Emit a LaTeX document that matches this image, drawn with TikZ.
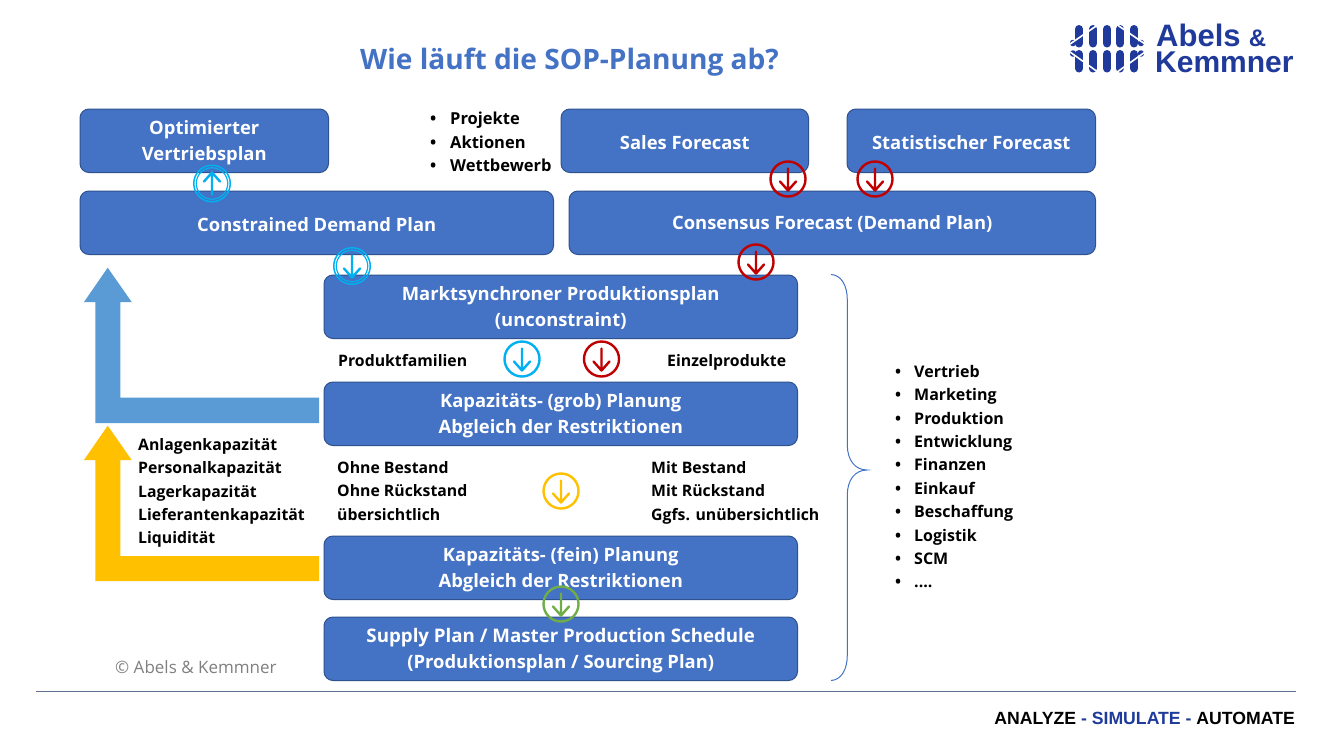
\documentclass[tikz,border=0pt]{standalone}
\usepackage{fontspec}
\setmainfont{Open Sans}[BoldFont=* Bold]
\newfontfamily\logofont{Liberation Sans}
\definecolor{boxblue}{HTML}{4472C4}
\definecolor{boxline}{HTML}{2F528F}
\definecolor{ccyan}{HTML}{00B0F0}
\definecolor{cred}{HTML}{C00000}
\definecolor{cyellow}{HTML}{FFC000}
\definecolor{cgreen}{HTML}{70AD47}
\definecolor{lblue}{HTML}{5B9BD5}
\definecolor{logoblue}{HTML}{1F3A9A}
\definecolor{rulecol}{HTML}{5F6F8F}
\tikzset{
  x=1pt,y=-1pt,
  flow/.style={draw=boxline,line width=1pt,fill=boxblue,rounded corners=9pt,outer sep=0pt,inner sep=0pt,anchor=north west},
  flowtext/.style={text=white,font=\fontsize{18.4}{26}\selectfont\bfseries,align=center,inner sep=0pt,yshift=-1.5pt},
  lbl/.style={font=\fontsize{15.8}{23.4}\selectfont\bfseries,align=left,inner sep=0pt,anchor=north west},
  ring/.style={circle,draw=#1,line width=2.4pt,minimum size=35pt,inner sep=0pt,outer sep=0pt},
  arr/.style={draw=#1,line width=2.4pt,line cap=round,line join=round},
  logotext/.style={text=logoblue,font=\logofont\fontsize{30}{30}\selectfont\bfseries,inner sep=0pt,anchor=base west,text height=21pt,text depth=0pt},
}
\newcommand{\bx}[6]{\node[flow,minimum width=#4 pt-#2 pt-0.5pt,minimum height=#5 pt-#3 pt-0.5pt] (#1) at (#2,#3) {};
  \node[flowtext] (#1t) at (#1.center) {#6};}
\newcommand{\ringdown}[4]{\node[ring=#4] (#1) at (#2,#3) {};
  \draw[arr=#4] (#1.center) ++(0,-10.5) -- ++(0,22) ++(-8,-9) -- ++(8,9) -- ++(8,-9);}
\newcommand{\dringdown}[4]{\node[ring=#4,line width=1.5pt,minimum size=36.5pt] (#1) at (#2,#3) {};
  \node[ring=#4,line width=1.2pt,minimum size=31.5pt] (#1i) at (#2,#3) {};
  \draw[arr=#4] (#1.center) ++(0,-10.5) -- ++(0,22) ++(-8,-9) -- ++(8,9) -- ++(8,-9);}
\newcommand{\dringup}[4]{\node[ring=#4,line width=1.5pt,minimum size=36.5pt] (#1) at (#2,#3) {};
  \node[ring=#4,line width=1.2pt,minimum size=31.5pt] (#1i) at (#2,#3) {};
  \draw[arr=#4] (#1.center) ++(0,11) -- ++(0,-22) ++(-8,9) -- ++(8,-9) -- ++(8,9);}
\begin{document}
\begin{tikzpicture}
\useasboundingbox (0,0) rectangle (1329,739);
\fill[white] (0,0) rectangle (1329,739);

\node[text=boxblue,font=\fontsize{28.1}{32}\selectfont\bfseries,inner sep=0pt] (title) at (569.5,62) {Wie läuft die SOP-Planung ab?};

% logo
\foreach \px in {1079,1093,1107,1120,1134}{
  \draw[logoblue,line width=8pt,line cap=round] (\px,29) -- (\px,43.5);
  \draw[logoblue,line width=8pt,line cap=round] (\px,54) -- (\px,68.5);
}
\foreach \px in {1073,1141}{
  \draw[logoblue,line width=5.5pt,line cap=round] (\px,42.5) -- (\px,43.5);
  \draw[logoblue,line width=5.5pt,line cap=round] (\px,53) -- (\px,54);
}
\foreach \xa/\ya/\xb/\yb in {1070/44/1102/22,1145/44/1113/22,1070/52/1102/75,1145/52/1113/75}{
  \draw[white,line width=1.6pt] (\xa,\ya) -- (\xb,\yb);
}
\node[logotext] (logoa) at (1156,46.5) {{\fontsize{31}{31}\selectfont Abels} {\fontsize{24}{24}\selectfont\&}};
\node[logotext] (logob) at (1155,72) {Kemmner};

% arrows behind boxes
\fill[lblue] (107.7,267.7) -- (131.7,302) -- (120.3,302) -- (120.3,397.7) -- (319,397.7) -- (319,423) -- (95.3,423) -- (95.3,302) -- (84,302) -- cycle;
\fill[cyellow] (107.7,425.7) -- (131.7,460) -- (120.3,460) -- (120.3,556) -- (319,556) -- (319,581) -- (95.3,581) -- (95.3,460) -- (84,460) -- cycle;

\bx{opt}{80}{109}{329}{173}{Optimierter\\Vertriebsplan}
\bx{sales}{561}{109}{809}{173}{Sales Forecast}
\bx{stat}{847}{109}{1096}{173}{Statistischer Forecast}
\bx{cdp}{80}{191}{554}{255}{Constrained Demand Plan}
\bx{cons}{569}{191}{1096}{255}{Consensus Forecast (Demand Plan)}
\bx{markt}{324}{275}{798}{339}{Marktsynchroner Produktionsplan\\(unconstraint)}
\bx{grob}{324}{382}{798}{446}{Kapazitäts- (grob) Planung\\Abgleich der Restriktionen}
\bx{fein}{324}{536}{798}{600}{Kapazitäts- (fein) Planung\\Abgleich der Restriktionen}
\bx{supply}{324}{617}{798}{681}{\fontsize{18.7}{26}\selectfont Supply Plan / Master Production Schedule\\(Produktionsplan / Sourcing Plan)}

\node[lbl,font=\fontsize{16.5}{23.4}\selectfont\bfseries] (proj) at (430,112) {\makebox[20pt][l]{•}Projekte\\\makebox[20pt][l]{•}Aktionen\\\makebox[20pt][l]{•}Wettbewerb};
\node[lbl] (fam) at (338,354) {Produktfamilien};
\node[lbl] (einz) at (667,354) {Einzelprodukte};
\node[lbl] (kap) at (138,438) {Anlagenkapazität\\Personalkapazität\\Lagerkapazität\\Lieferantenkapazität\\Liquidität};
\node[lbl] (ohne) at (337,461) {Ohne Bestand\\Ohne Rückstand\\übersichtlich};
\node[lbl] (mit) at (651,461) {Mit Bestand\\Mit Rückstand\\Ggfs. unübersichtlich};
\node[lbl,font=\fontsize{16}{23.4}\selectfont\bfseries] (roles) at (895,365) {\makebox[19pt][l]{•}Vertrieb\\\makebox[19pt][l]{•}Marketing\\\makebox[19pt][l]{•}Produktion\\\makebox[19pt][l]{•}Entwicklung\\\makebox[19pt][l]{•}Finanzen\\\makebox[19pt][l]{•}Einkauf\\\makebox[19pt][l]{•}Beschaffung\\\makebox[19pt][l]{•}Logistik\\\makebox[19pt][l]{•}SCM\\\makebox[19pt][l]{•}....};

\dringup{c1}{212}{183.5}{ccyan}
\dringdown{c2}{352}{266}{ccyan}
\ringdown{c3}{522}{359}{ccyan}
\ringdown{c4}{601.5}{359}{cred}
\ringdown{c5}{788}{179}{cred}
\ringdown{c6}{875}{179}{cred}
\ringdown{c7}{756}{262}{cred}
\ringdown{c8}{561}{491}{cyellow}
\ringdown{c9}{561}{604}{cgreen}

% brace
\draw[boxblue,line width=1pt] (831,274.5) .. controls (841,275) and (847.3,285) .. (847.3,300)
  -- (847.3,445) .. controls (847.3,460) and (855,470) .. (867,470)
  .. controls (855,470) and (847.3,480) .. (847.3,495)
  -- (847.3,655) .. controls (847.3,670) and (841,680) .. (831,680.5);

\node[text=gray,font=\fontsize{17}{20}\selectfont,inner sep=0pt,anchor=west] (copy) at (115,667) {© Abels \& Kemmner};
\draw[rulecol,line width=0.7pt] (36,691.5) -- (1296,691.5);
\node[font=\logofont\fontsize{17.65}{20}\selectfont\bfseries,inner sep=0pt,anchor=east] (tag) at (1295,718.5) {ANALYZE \textcolor{logoblue}{- SIMULATE -} AUTOMATE};
\end{tikzpicture}
\end{document}
